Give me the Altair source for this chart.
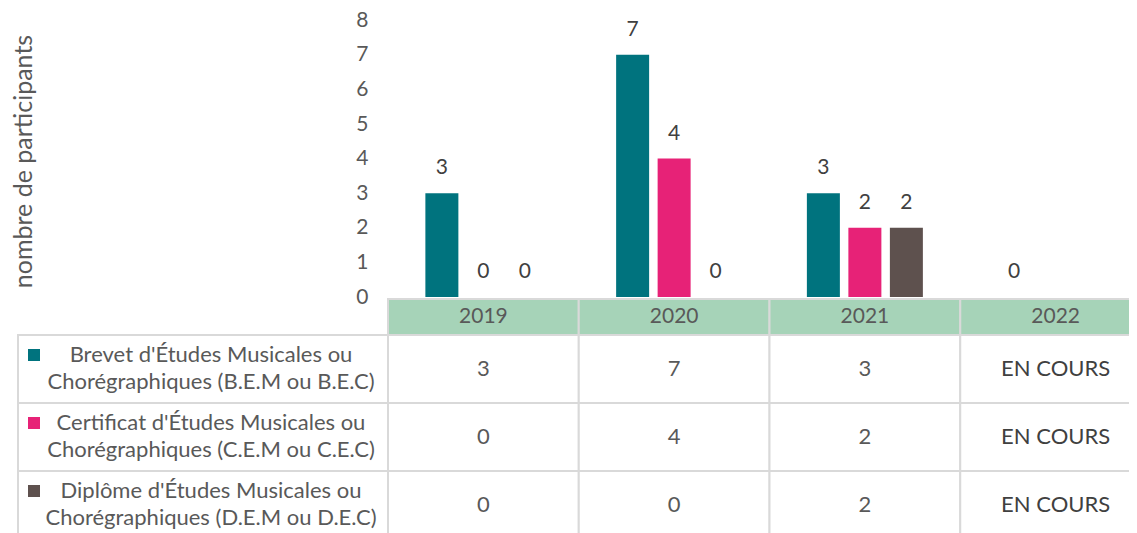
import altair as alt
import pandas as pd

# ---------------- data ----------------
years = ["2019", "2020", "2021", "2022"]
series_line1 = ["Brevet d'Études Musicales ou",
                "Certificat d'Études Musicales ou",
                "Diplôme d'Études Musicales ou"]
series_line2 = ["Chorégraphiques (B.E.M ou B.E.C)",
                "Chorégraphiques (C.E.M ou C.E.C)",
                "Chorégraphiques (D.E.M ou D.E.C)"]
brevet = [3, 7, 3, 0]
certificat = [0, 4, 2, None]
diplome = [0, 0, 2, None]
table_brevet = ["3", "7", "3", "EN COURS"]
table_certificat = ["0", "4", "2", "EN COURS"]
table_diplome = ["0", "0", "2", "EN COURS"]
y_ticks = [0, 1, 2, 3, 4, 5, 6, 7, 8]
y_title = "nombre de participants"

colors = ["#00737E", "#E72277", "#5E514E"]
header_fill = "#A6D3B8"
border = "#D9D9D9"
text_grey = "#595959"

# ---------------- layout ----------------
W, H = 1121, 525
COL_PX = 190.75         # pixel width of a year column
COL0_PAGE = 388         # page x of the left edge of 2019 column
UNIT_PX = 34.6          # pixels per participant
ZERO_PAGE = 297         # page y of value 0

x_dom = [(8 - COL0_PAGE) / COL_PX, (8 + W - COL0_PAGE) / COL_PX]
y_dom = [(ZERO_PAGE - (8 + H)) / UNIT_PX, (ZERO_PAGE - 8) / UNIT_PX]

def ypx(page_y):
    return (ZERO_PAGE - page_y) / UNIT_PX

def xpx(page_x):
    return (page_x - COL0_PAGE) / COL_PX

xs = alt.Scale(domain=x_dom, nice=False, zero=False)
ys = alt.Scale(domain=y_dom, nice=False, zero=False)

series_values = [brevet, certificat, diplome]
table_values = [table_brevet, table_certificat, table_diplome]
series_names = [a + " " + b for a, b in zip(series_line1, series_line2)]

bar_w = 33 / COL_PX / 2
pitch = 41.5 / COL_PX

bars, labels = [], []
for s, vals in enumerate(series_values):
    for i, v in enumerate(vals):
        if v is None:
            continue
        c = i + 0.5 + (s - 1) * pitch
        bars.append(dict(x=c - bar_w, x2=c + bar_w, y=0, y2=v, s=series_names[s]))
        labels.append(dict(x=c, y=v, t=str(v)))
bars_df = pd.DataFrame(bars)
labels_df = pd.DataFrame(labels)

# table geometry
hdr_top, hdr_bot = ypx(299), ypx(335)
row_edges = [ypx(335), ypx(403), ypx(471), ypx(539)]
legend_left = xpx(18)

hdr_cells = pd.DataFrame([dict(x=i, x2=i + 1, y=hdr_top, y2=hdr_bot,
                               xm=i + 0.5, ym=(hdr_top + hdr_bot) / 2, t=years[i])
                          for i in range(len(years))])
body_cells = []
body_text = []
leg_text = []
leg_sq = []
for r in range(3):
    t, b = row_edges[r], row_edges[r + 1]
    mid = (t + b) / 2
    body_cells.append(dict(x=legend_left, x2=0, y=t, y2=b))
    for i in range(len(years)):
        body_cells.append(dict(x=i, x2=i + 1, y=t, y2=b))
        body_text.append(dict(x=i + 0.5, y=mid, t=table_values[r][i],
                              c="#404040" if table_values[r][i] == "EN COURS" else text_grey))
    l1 = mid + 14 / UNIT_PX
    l2 = mid - 13 / UNIT_PX
    leg_text.append(dict(x=xpx(211), y=l1, t=series_line1[r]))
    leg_text.append(dict(x=xpx(211), y=l2, t=series_line2[r]))
    leg_sq.append(dict(x=xpx(34), y=l1, s=series_names[r]))
body_df = pd.DataFrame(body_cells)
body_text_df = pd.DataFrame(body_text)
leg_text_df = pd.DataFrame(leg_text)
leg_sq_df = pd.DataFrame(leg_sq)

FONT = "Lato"
FW = "normal"
color_scale = alt.Scale(domain=series_names, range=colors)

y_axis = alt.Axis(values=y_ticks, offset=-362, labelPadding=2, ticks=False,
                  domain=False, grid=False, labelFont=FONT, labelFontSize=21,
                  labelFontWeight=FW,
                  labelColor=text_grey, titleFont=FONT, titleFontSize=25,
                  titleFontWeight=FW, titleColor=text_grey,
                  titleAngle=270, titleX=-347, titleY=153,
                  titleAlign="center", titleBaseline="middle")


def X(field):
    return alt.X(field, type="quantitative", scale=xs, axis=None)


def Y(field):
    return alt.Y(field, type="quantitative", scale=ys, title=y_title, axis=y_axis)


bar_layer = alt.Chart(bars_df).mark_bar().encode(
    x=X("x"), x2="x2", y=Y("y"), y2="y2",
    color=alt.Color("s:N", scale=color_scale, legend=None),
)

label_layer = alt.Chart(labels_df).mark_text(
    dy=-25, font=FONT, fontSize=21, fontWeight=FW, color="#404040").encode(
    x=X("x"), y=Y("y"), text="t:N",
)

hdr_layer = alt.Chart(hdr_cells).mark_rect(
    fill=header_fill, stroke=border, strokeWidth=2, clip=True).encode(
    x=X("x"), x2="x2", y=Y("y"), y2="y2",
)
hdr_text = alt.Chart(hdr_cells).mark_text(
    font=FONT, fontSize=21, fontWeight=FW, color=text_grey).encode(
    x=X("xm"), y=Y("ym"), text="t:N",
)
body_layer = alt.Chart(body_df).mark_rect(
    fill="white", stroke=border, strokeWidth=2, clip=True).encode(
    x=X("x"), x2="x2", y=Y("y"), y2="y2",
)
body_txt_layer = alt.Chart(body_text_df).mark_text(
    font=FONT, fontSize=22, fontWeight=FW).encode(
    x=X("x"), y=Y("y"), text="t:N",
    color=alt.Color("c:N", scale=None),
)
leg_txt_layer = alt.Chart(leg_text_df).mark_text(
    font=FONT, fontSize=22, fontWeight=FW, color=text_grey, align="center").encode(
    x=X("x"), y=Y("y"), text="t:N",
)
leg_sq_layer = alt.Chart(leg_sq_df).mark_square(size=144, opacity=1).encode(
    x=X("x"), y=Y("y"),
    color=alt.Color("s:N", scale=color_scale, legend=None),
)

chart = alt.layer(
    bar_layer, label_layer, hdr_layer, hdr_text, body_layer,
    body_txt_layer, leg_txt_layer, leg_sq_layer
).properties(
    width=W, height=H, padding=0,
    autosize=alt.AutoSizeParams(type="none"),
).configure(background="white", view=alt.ViewConfig(stroke=None))

chart.save("out.html", embed_options={"renderer": "svg", "actions": False})
